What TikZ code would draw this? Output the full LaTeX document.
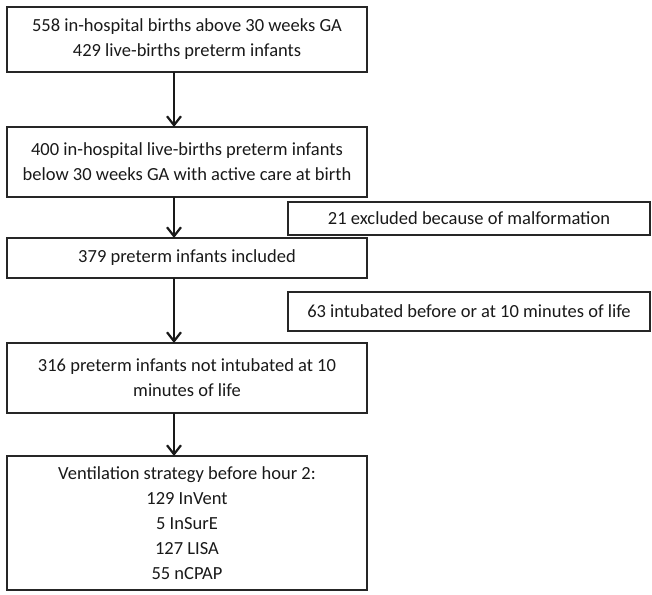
\documentclass[tikz,border=0pt]{standalone}
\usepackage{fontspec}
\setmainfont{Carlito}
\usetikzlibrary{arrows.meta}
\begin{document}
\begin{tikzpicture}[x=1pt,y=-1pt,
  box/.style={draw=black!85, line width=1.3pt, inner sep=0pt, outer sep=0pt, align=center, anchor=north west, minimum width=360pt, text=black!90, font=\fontsize{18.5}{25}\selectfont},
  arr/.style={draw=black!90, line width=1.3pt, -{Straight Barb[length=9pt,width=14pt,line width=2.2pt]}}]
\useasboundingbox (0,0) rectangle (652,594);
\node[box, minimum height=65pt] (b1) at (7,7) {558 in-hospital births above 30 weeks GA\\429 live-births preterm infants};
\node[box, minimum height=70pt] (b2) at (7,127) {400 in-hospital live-births preterm infants\\below 30 weeks GA with active care at birth};
\node[box, minimum height=40pt] (b3) at (7,238) {379 preterm infants included};
\node[box, minimum height=70pt] (b4) at (7,343) {316 preterm infants not intubated at 10\\minutes of life};
\node[box, minimum height=134pt] (b5) at (7,456) {Ventilation strategy before hour 2:\\129 InVent\\5 InSurE\\127 LISA\\55 nCPAP};
\node[box, minimum width=362pt, minimum height=33pt] (e1) at (288,202) {21 excluded because of malformation};
\node[box, minimum width=362pt, minimum height=39pt] (e2) at (288,292) {63 intubated before or at 10 minutes of life};
\draw[arr] ([xshift=-13pt]b1.south) -- ([xshift=-13pt]b2.north);
\draw[arr] ([xshift=-13pt]b2.south) -- ([xshift=-13pt]b3.north);
\draw[arr] ([xshift=-13pt]b3.south) -- ([xshift=-13pt]b4.north);
\draw[arr] ([xshift=-13pt]b4.south) -- ([xshift=-13pt]b5.north);
\end{tikzpicture}
\end{document}
